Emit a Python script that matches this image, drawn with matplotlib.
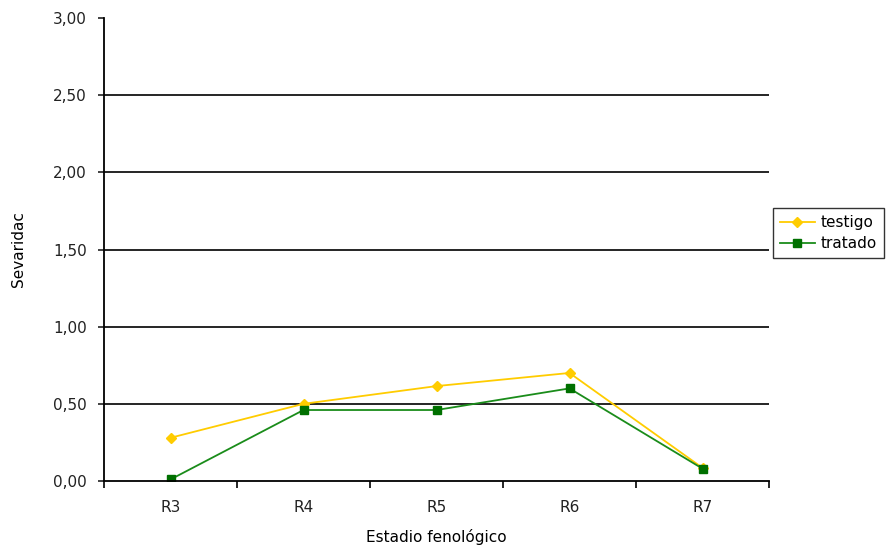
import matplotlib
matplotlib.use('Agg')
import matplotlib.pyplot as plt
from matplotlib.ticker import FuncFormatter

estadios = ['R3', 'R4', 'R5', 'R6', 'R7']
testigo = [0.28, 0.50, 0.615, 0.70, 0.085]
tratado = [0.01, 0.46, 0.46, 0.60, 0.08]

plt.rcParams['font.family'] = ['DejaVu Sans']
fs = 11

fig = plt.figure(figsize=[8.88, 5.49], dpi=100)
ax = fig.add_axes([104 / 888, 1 - 481 / 549, (769 - 104) / 888, (481 - 18) / 549])

x = list(range(len(estadios)))
ax.plot(x, testigo, color='#ffcc00', marker='D', markersize=5.5, linewidth=1.3, label='testigo')
ax.plot(x, tratado, color='#1a8c1a', marker='s', markersize=5.5, linewidth=1.3,
        markerfacecolor='#007000', markeredgecolor='#007000', label='tratado')

ax.set_xlim(-0.5, len(estadios) - 0.5)
ax.set_ylim(0, 3)
ax.set_yticks([0, 0.5, 1, 1.5, 2, 2.5, 3])
ax.yaxis.set_major_formatter(FuncFormatter(lambda v, p: ('%.2f' % v).replace('.', ',')))
for v in [0.5, 1, 1.5, 2, 2.5]:
    ax.axhline(v, color='black', linewidth=1.2, zorder=0)

ax.set_xticks(x)
ax.set_xticklabels(estadios)
ax.set_xticks([i - 0.5 for i in range(len(estadios) + 1)], minor=True)
ax.tick_params(axis='x', which='major', length=0, pad=14)
ax.tick_params(axis='x', which='minor', length=5, width=1.2, direction='out')
ax.tick_params(axis='y', length=4.5, width=1.2, direction='out', pad=8)
ax.tick_params(labelsize=fs, colors='#222222')

for s in ['top', 'right']:
    ax.spines[s].set_visible(False)
for s in ['left', 'bottom']:
    ax.spines[s].set_linewidth(1.3)

ax.set_xlabel('Estadio fenológico', fontsize=fs, labelpad=10)
ax.set_ylabel('Sevaridac', fontsize=fs, labelpad=19)

leg = ax.legend(loc='center left', bbox_to_anchor=(1.006, 0.535), fontsize=fs,
                frameon=True, fancybox=False, edgecolor='black', handlelength=2.3,
                handletextpad=0.4, borderpad=0.45, labelspacing=0.4, borderaxespad=0)
leg.get_frame().set_linewidth(1.0)

fig.savefig('out.png', dpi=100)
